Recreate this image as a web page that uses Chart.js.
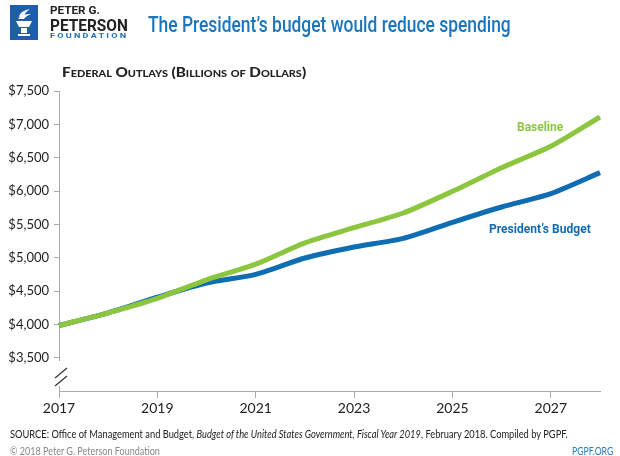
<!DOCTYPE html>
<html>
<head>
<meta charset="utf-8">
<script src="https://cdn.jsdelivr.net/npm/chart.js@4"></script>
<style>
  body { margin: 0; width: 620px; height: 456px; position: relative; background: #fff; overflow: hidden; font-family: Lato, "Open Sans", sans-serif; }
  #wrap { position: absolute; left: 0; top: 0; width: 620px; height: 456px; }
  .t { position: absolute; white-space: nowrap; transform-origin: 0 0; line-height: 1; }
</style>
</head>
<body>
<div id="wrap"><canvas id="myChart" width="620" height="456"></canvas></div>

<svg style="position:absolute;left:10px;top:5px" width="28" height="35" viewBox="0 0 28 35">
  <rect width="28" height="35" fill="#1f5fa9"/>
  <path d="M9 12 C10 7 15 5 20 4 C16 7 14 9 14 12 Z M8 14 C11 10 16 9 21 9 C17 11 15 12 14 14 Z" fill="#fff"/>
  <path d="M6 16 H22 L19 22 H9 Z" fill="#fff"/>
  <rect x="11" y="23" width="6" height="5" fill="#fff"/>
  <rect x="8" y="29" width="12" height="2" fill="#fff"/>
</svg>
<div class="t" data-w="50" style="left:50px;top:4px;font:bold 11px Roboto;color:#222">PETER G.</div>
<div class="t" data-w="78" style="left:50px;top:15px;font:bold 17px Roboto;color:#222">PETERSON</div>
<div class="t" data-w="78" style="left:50px;top:31px;font:bold 8px Roboto;color:#1f6fb5;letter-spacing:2px">FOUNDATION</div>
<div class="t" data-w="363" style="left:148px;top:12px;font:500 22px Roboto;color:#1b75bc">The President’s budget would reduce spending</div>

<div class="t" data-w="244" style="left:62px;top:63px;font:900 14px Lato;font-variant:small-caps;color:#222">Federal Outlays (Billions of Dollars)</div>

<div class="t" data-w="46" style="left:517px;top:119px;font:bold 13px Roboto;color:#8cc63f">Baseline</div>
<div class="t" data-w="102" style="left:489px;top:221px;font:bold 13px Roboto;color:#116cb2">President’s Budget</div>

<div class="t" data-w="558" style="left:10px;top:427px;font:11px Lato;color:#222">SOURCE: Office of Management and Budget, <i>Budget of the United States Government, Fiscal Year 2019</i>, February 2018. Compiled by PGPF.</div>
<div class="t" data-w="150" style="left:10px;top:444px;font:11px Lato;color:#888">© 2018 Peter G. Peterson Foundation</div>
<div class="t" data-w="41" style="left:572px;top:444px;font:11px Lato;color:#2a7ab8">PGPF.ORG</div>

<script>
// fiscal years on the x axis
const years = ['2017','2018','2019','2020','2021','2022','2023','2024','2025','2026','2027','2028'];
// federal outlays, billions of dollars
const baseline = [3982, 4173, 4390, 4667, 4902, 5222, 5450, 5670, 5995, 6350, 6670, 7110];
const presidentsBudget = [3982, 4173, 4407, 4620, 4750, 4995, 5160, 5290, 5530, 5760, 5960, 6275];
const yTicks = [3500, 4000, 4500, 5000, 5500, 6000, 6500, 7000, 7500];

// squeeze each text to the width it has in the picture
for (let el of document.querySelectorAll('.t')) {
    let w = +el.dataset.w;
    let real = el.scrollWidth;
    el.style.transform = 'scaleX(' + (w / real) + ')';
}

const axisGrey = '#aaaaaa';

// the little // break on the y axis
const axisBreak = {
    id: 'axisBreak',
    afterDraw(chart){
        const ctx = chart.ctx;
        const x = chart.scales.x.left;
        ctx.save();
        ctx.fillStyle = '#fff';
        ctx.fillRect(x - 2, 361, 4, 25);
        ctx.strokeStyle = '#333';
        ctx.lineWidth = 1.2;
        ctx.beginPath();
        ctx.moveTo(55, 378); ctx.lineTo(67, 368);
        ctx.moveTo(55, 386); ctx.lineTo(67, 376);
        ctx.stroke();
        ctx.restore();
    }
};

const ctx = document.getElementById('myChart').getContext('2d');
const myChart = new Chart(ctx, {
    type: 'line',
    data: {
        labels: years,
        datasets: [{
            label: 'Baseline',
            data: baseline,
            borderColor: '#8cc63f',
            borderWidth: 5,
            pointRadius: 0,
            tension: 0.25
        },{
            label: "President's Budget",
            data: presidentsBudget,
            borderColor: '#0f6db3',
            borderWidth: 5,
            pointRadius: 0,
            tension: 0.25
        }]
    },
    options: {
        responsive: false,
        animation: false,
        layout: { padding: { left: 0, top: 91, right: 20, bottom: 35 } },
        plugins: {
            legend: { display: false },
            tooltip: { enabled: false }
        },
        scales: {
            x: {
                afterFit(scale){ scale.height = 30; },
                grid: {
                    drawOnChartArea: false,
                    tickLength: 7,
                    tickColor: c => (c.index % 2 === 0 && c.index < years.length - 1) ? axisGrey : 'transparent'
                },
                border: { color: axisGrey },
                ticks: {
                    autoSkip: false,
                    maxRotation: 0,
                    padding: 2,
                    color: '#222',
                    font: { family: 'Lato', size: 14 },
                    callback: function(v, i){ return (i % 2 === 0 && i < years.length - 1) ? years[i] : ''; }
                }
            },
            y: {
                min: 3000,
                max: 7500,
                afterFit(scale){ scale.width = 59; },
                afterBuildTicks(scale){
                    scale.ticks = [{ value: 3000 }].concat(yTicks.map(v => ({ value: v })));
                },
                grid: {
                    drawOnChartArea: false,
                    tickLength: 5,
                    tickColor: c => c.tick && c.tick.value === 3000 ? 'transparent' : axisGrey
                },
                border: { color: axisGrey },
                ticks: {
                    padding: 5,
                    color: '#222',
                    font: { family: 'Lato', size: 13 },
                    callback: v => v === 3000 ? '' : '$' + v.toLocaleString('en-US')
                }
            }
        }
    },
    plugins: [axisBreak]
});
</script>
</body>
</html>
